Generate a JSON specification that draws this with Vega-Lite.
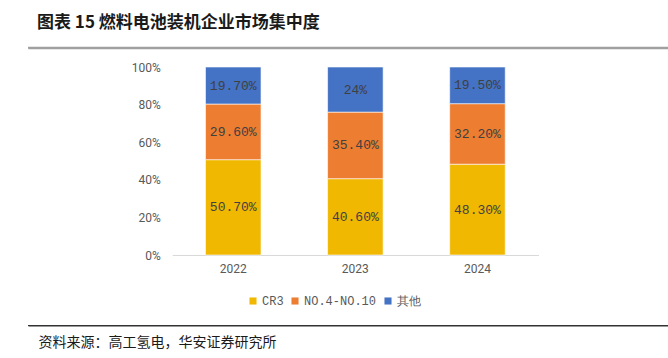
{
  "$schema": "https://vega.github.io/schema/vega-lite/v6.json",
  "padding": {"left": 27, "top": 13.7, "right": 0, "bottom": 0},
  "background": "white",
  "width": 641,
  "height": 277.8,
  "config": {"view": {"stroke": null}, "font": "Noto Sans CJK SC"},
  "title": {"text": "图表 15 燃料电池装机企业市场集中度", "anchor": "start", "dx": 10, "offset": 15, "fontSize": 17, "fontWeight": "bold", "color": "#1a1a1a", "font": "Noto Sans CJK SC"},
  "data": {"values": [
    {"year": "2022", "series": "CR3", "order": 1, "value": 0.507, "label": "50.70%"},
    {"year": "2022", "series": "NO.4-NO.10", "order": 2, "value": 0.296, "label": "29.60%"},
    {"year": "2022", "series": "其他", "order": 3, "value": 0.197, "label": "19.70%"},
    {"year": "2023", "series": "CR3", "order": 1, "value": 0.406, "label": "40.60%"},
    {"year": "2023", "series": "NO.4-NO.10", "order": 2, "value": 0.354, "label": "35.40%"},
    {"year": "2023", "series": "其他", "order": 3, "value": 0.24, "label": "24%"},
    {"year": "2024", "series": "CR3", "order": 1, "value": 0.483, "label": "48.30%"},
    {"year": "2024", "series": "NO.4-NO.10", "order": 2, "value": 0.322, "label": "32.20%"},
    {"year": "2024", "series": "其他", "order": 3, "value": 0.195, "label": "19.50%"}
  ]},
  "layer": [
    {
      "mark": {"type": "bar", "stroke": "white", "strokeWidth": 0.6},
      "encoding": {
        "x": {"field": "year", "type": "nominal",
          "scale": {"range": [144.2, 510.5], "paddingInner": 0.545, "paddingOuter": 0.2725},
          "axis": {"orient": "bottom", "offset": -70.5, "title": null, "labelAngle": 0, "domainColor": "#d9d9d9", "domainWidth": 1, "ticks": false, "tickSize": 0, "labelPadding": 8, "labelColor": "#595959", "labelFontSize": 12, "labelFont": "Roboto"}},
        "y": {"field": "value", "type": "quantitative", "stack": "zero",
          "scale": {"domain": [0, 1], "range": [207.3, 19.3], "nice": false},
          "axis": {"orient": "left", "offset": -144.2, "values": [0, 0.2, 0.4, 0.6, 0.8, 1], "format": ".0%", "domain": false, "ticks": false, "tickSize": 0, "grid": false, "labelPadding": 12, "labelColor": "#595959", "labelFontSize": 12, "labelFont": "Roboto", "title": null}},
        "color": {"field": "series", "type": "nominal",
          "scale": {"domain": ["CR3", "NO.4-NO.10", "其他"], "range": ["#F0B800", "#ED7D31", "#4472C4"]},
          "legend": {"orient": "none", "legendX": 219, "legendY": 247.3, "direction": "horizontal", "title": null, "symbolType": "square", "symbolSize": 50, "symbolStrokeWidth": 0, "labelFontSize": 12, "labelFont": "Liberation Mono", "labelColor": "#595959", "columnPadding": 5, "labelOffset": 3, "padding": 0}},
        "order": {"field": "order", "type": "quantitative"}
      }
    },
    {
      "transform": [
        {"stack": "value", "groupby": ["year"], "sort": [{"field": "order", "order": "ascending"}], "as": ["y0", "y1"]},
        {"calculate": "(datum.y0 + datum.y1) / 2", "as": "mid"}
      ],
      "mark": {"type": "text", "font": "Liberation Mono", "fontSize": 13, "color": "#404040", "baseline": "middle"},
      "encoding": {
        "x": {"field": "year", "type": "nominal",
          "scale": {"range": [144.2, 510.5], "paddingInner": 0.545, "paddingOuter": 0.2725},
          "axis": null},
        "y": {"field": "mid", "type": "quantitative",
          "scale": {"domain": [0, 1], "range": [207.3, 19.3], "nice": false},
          "axis": null},
        "text": {"field": "label"}
      }
    },
    {
      "data": {"values": [{"edge": 0}, {"edge": 1}]},
      "mark": {"type": "text", "text": ""},
      "encoding": {
        "x": {"field": "edge", "type": "quantitative", "scale": {"domain": [0, 1], "nice": false},
          "axis": {"orient": "top", "labels": false, "ticks": false, "grid": false, "title": null, "domain": true, "domainColor": "#a0a0a0", "domainWidth": 2}}
      }
    },
    {
      "data": {"values": [{"edge": 0}, {"edge": 1}]},
      "mark": {"type": "text", "text": ""},
      "encoding": {
        "x": {"field": "edge", "type": "quantitative", "scale": {"domain": [0, 1], "nice": false},
          "axis": {"orient": "bottom", "labels": false, "ticks": false, "grid": false, "domain": true, "domainColor": "#333333", "domainWidth": 1,
            "title": "资料来源：高工氢电，华安证券研究所", "titleX": 10, "titleAlign": "left", "titleBaseline": "top", "titlePadding": 10, "titleFontSize": 14, "titleFontWeight": "normal", "titleColor": "#1a1a1a", "titleFont": "Noto Sans CJK SC"}}
      }
    },
    {
      "data": {"values": [{"edge": 0}, {"edge": 1}]},
      "mark": {"type": "rule"},
      "encoding": {
        "y": {"field": "edge", "type": "quantitative", "scale": {"domain": [0, 1], "nice": false}, "axis": null},
        "color": {"condition": {"test": "datum.edge === 1", "value": "#a0a0a0"}, "value": "#333333"},
        "strokeWidth": {"condition": {"test": "datum.edge === 1", "value": 2}, "value": 1}
      }
    }
  ],
  "resolve": {"scale": {"x": "independent", "y": "independent"}, "axis": {"x": "independent", "y": "independent"}}
}
